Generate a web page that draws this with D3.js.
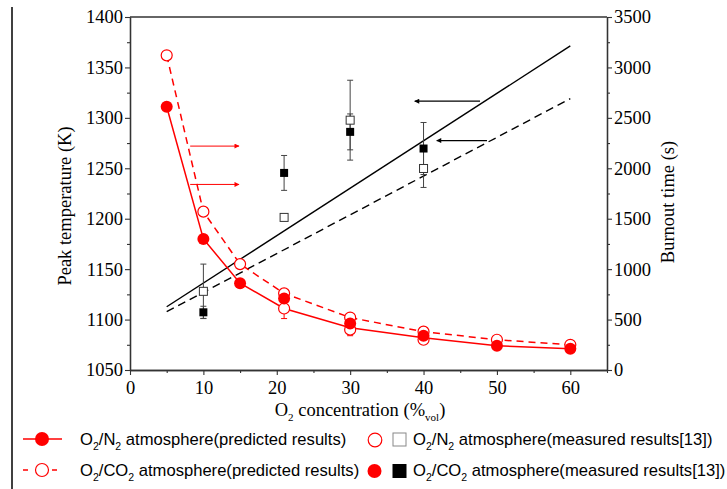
<!DOCTYPE html>
<html><head><meta charset="utf-8">
<script src="https://cdn.jsdelivr.net/npm/d3@7"></script>
<style>
body{margin:0;background:#fff;}
svg{display:block;}
.serif{font-family:"Liberation Serif","Times New Roman",Times,serif;}
.sans{font-family:"Liberation Sans",Arial,Helvetica,sans-serif;}
</style></head>
<body>
<svg id="chart" width="727" height="489"></svg>
<script>
// ---------------- data ----------------
const concPred = [5, 10, 15, 21, 30, 40, 50, 60];
const tempN2Pred = [1311, 1180, 1136, 1111, 1092, 1082, 1074, 1071];
const tempCO2Pred = [1362, 1207, 1155, 1126, 1102, 1088, 1080, 1075];
const n2PredMarkerConc = [5, 10, 15, 50, 60];

const concMeasTemp = [21, 30, 40];
const tempN2Meas = [1111, 1090, 1080];
const errTempN2Meas = [10, 6, 3];
const tempCO2Meas = [1121, 1096, 1084];

const concBurnLine = [5, 60];
const burnN2Pred = [627, 3213];
const burnCO2Pred = [578, 2691];

const concMeasBurn = [10, 21, 30, 40];
const burnN2Meas = [780, 1513, 2477, 1998];
const errBurnN2Meas = [270, 0, 396, 188];
const burnCO2Meas = [572, 1954, 2361, 2196];
const errBurnCO2Meas = [60, 173, 178, 258];

const xTicks = [0, 10, 20, 30, 40, 50, 60];
const yLeftTicks = [1050, 1100, 1150, 1200, 1250, 1300, 1350, 1400];
const yRightTicks = [0, 500, 1000, 1500, 2000, 2500, 3000, 3500];

// annotation arrows: [x1, x2, y] (data units)
const redArrows = [[8.2, 14.85, 1272], [8.2, 14.85, 1234]];
const blackArrows = [[47.7, 38.8, 2665], [48.65, 41.8, 2275]];

// ---------------- layout ----------------
const svg = d3.select("#chart");
const L = 130, R = 607, T = 17, B = 370;
const x = d3.scaleLinear().domain([0, 65]).range([L, R]);
const yL = d3.scaleLinear().domain([1050, 1400]).range([B, T]);
const yR = d3.scaleLinear().domain([0, 3500]).range([B, T]);
const RED = "#ff0000";
const AX = "#333";

// left border line
svg.append("line").attr("x1", 12).attr("x2", 12).attr("y1", 7).attr("y2", 489)
  .attr("stroke", "#000").attr("stroke-width", 1.5);

// defs for arrowheads
const defs = svg.append("defs");
function marker(id, color) {
  defs.append("marker").attr("id", id).attr("viewBox", "0 0 10 10")
    .attr("refX", 9).attr("refY", 5).attr("markerWidth", 7).attr("markerHeight", 5)
    .attr("markerUnits", "userSpaceOnUse").attr("orient", "auto")
    .append("path").attr("d", "M0,0L10,5L0,10Z").attr("fill", color);
}
marker("arrR", RED); marker("arrK", "#000");

// ---------------- axes ----------------
function styleAxis(g) {
  g.attr("font-family", null).attr("font-size", null);
  g.select(".domain").attr("stroke", AX).attr("stroke-width", 1.3);
  g.selectAll(".tick line").attr("stroke", AX).attr("stroke-width", 1.1);
  g.selectAll(".tick text").attr("fill", "#000").attr("class", "serif").style("font-size", "18.5px");
}
const minorX = d3.range(5, 66, 10);
const minorYL = yLeftTicks.slice(0, -1).map(v => v + 25);
const minorYR = yRightTicks.slice(0, -1).map(v => v + 250);

svg.append("g").attr("transform", `translate(0,${B})`)
  .call(d3.axisBottom(x).tickValues(minorX).tickSize(3).tickSizeOuter(0).tickFormat(""))
  .call(styleAxis);
svg.append("g").attr("transform", `translate(0,${B})`)
  .call(d3.axisBottom(x).tickValues(xTicks).tickSize(5).tickSizeOuter(0).tickPadding(6).tickFormat(d3.format("d")))
  .call(styleAxis);
svg.append("g").attr("transform", `translate(${L},0)`)
  .call(d3.axisLeft(yL).tickValues(minorYL).tickSize(3).tickSizeOuter(0).tickFormat(""))
  .call(styleAxis);
svg.append("g").attr("transform", `translate(${L},0)`)
  .call(d3.axisLeft(yL).tickValues(yLeftTicks).tickSize(5).tickSizeOuter(0).tickPadding(2).tickFormat(d3.format("d")))
  .call(styleAxis);
svg.append("g").attr("transform", `translate(${R},0)`)
  .call(d3.axisRight(yR).tickValues(minorYR).tickSize(3).tickSizeOuter(0).tickFormat(""))
  .call(styleAxis);
svg.append("g").attr("transform", `translate(${R},0)`)
  .call(d3.axisRight(yR).tickValues(yRightTicks).tickSize(5).tickSizeOuter(0).tickPadding(2).tickFormat(d3.format("d")))
  .call(styleAxis);
// top border
svg.append("line").attr("x1", L).attr("x2", R).attr("y1", T).attr("y2", T)
  .attr("stroke", AX).attr("stroke-width", 1.3);

// axis titles
const xt = svg.append("text").attr("class", "serif").attr("x", 360).attr("y", 416).attr("text-anchor", "middle")
  .style("font-size", "18.5px").attr("fill", "#000");
xt.append("tspan").text("O");
xt.append("tspan").style("font-size", "11px").attr("dy", 5).text("2");
xt.append("tspan").attr("dy", -5).text(" concentration (%");
xt.append("tspan").style("font-size", "11px").attr("dy", 5).text("vol");
xt.append("tspan").attr("dy", -5).text(")");

svg.append("text").attr("class", "serif").attr("transform", "translate(71,206) rotate(-90)").attr("text-anchor", "middle")
  .style("font-size", "18.5px").attr("fill", "#000").text("Peak temperature (K)");
svg.append("text").attr("class", "serif").attr("transform", "translate(674,202) rotate(-90)").attr("text-anchor", "middle")
  .style("font-size", "18.5px").attr("fill", "#000").text("Burnout time (s)");

// ---------------- lines ----------------
const lineT = d3.line().x(d => x(d[0])).y(d => yL(d[1]));
const lineB = d3.line().x(d => x(d[0])).y(d => yR(d[1]));

svg.append("path").attr("d", lineB(d3.zip(concBurnLine, burnN2Pred)))
  .attr("fill", "none").attr("stroke", "#000").attr("stroke-width", 1.4);
svg.append("path").attr("d", lineB(d3.zip(concBurnLine, burnCO2Pred)))
  .attr("fill", "none").attr("stroke", "#000").attr("stroke-width", 1.4).attr("stroke-dasharray", "8,5");
svg.append("path").attr("d", lineT(d3.zip(concPred, tempN2Pred)))
  .attr("fill", "none").attr("stroke", RED).attr("stroke-width", 1.5);
svg.append("path").attr("d", lineT(d3.zip(concPred, tempCO2Pred)))
  .attr("fill", "none").attr("stroke", RED).attr("stroke-width", 1.5).attr("stroke-dasharray", "7,5");

// ---------------- arrows ----------------
redArrows.forEach(a => {
  svg.append("line").attr("x1", x(a[0])).attr("x2", x(a[1])).attr("y1", yL(a[2])).attr("y2", yL(a[2]))
    .attr("stroke", RED).attr("stroke-width", 1).attr("marker-end", "url(#arrR)");
});
blackArrows.forEach(a => {
  svg.append("line").attr("x1", x(a[0])).attr("x2", x(a[1])).attr("y1", yR(a[2])).attr("y2", yR(a[2]))
    .attr("stroke", "#000").attr("stroke-width", 1.2).attr("marker-end", "url(#arrK)");
});

// ---------------- error bars ----------------
function errBars(xs, ys, es, scale, color) {
  xs.forEach((c, i) => {
    if (!es[i]) return;
    const cx = x(c), y1 = scale(ys[i] - es[i]), y2 = scale(ys[i] + es[i]);
    const g = svg.append("g").attr("stroke", color).attr("stroke-width", 1);
    g.append("line").attr("x1", cx).attr("x2", cx).attr("y1", y1).attr("y2", y2);
    g.append("line").attr("x1", cx - 3).attr("x2", cx + 3).attr("y1", y1).attr("y2", y1);
    g.append("line").attr("x1", cx - 3).attr("x2", cx + 3).attr("y1", y2).attr("y2", y2);
  });
}
errBars(concMeasBurn, burnN2Meas, errBurnN2Meas, yR, "#444");
errBars(concMeasBurn, burnCO2Meas, errBurnCO2Meas, yR, "#444");
errBars(concMeasTemp, tempN2Meas, errTempN2Meas, yL, RED);

// ---------------- markers ----------------
const rC = 5.5;
svg.append("g").selectAll("circle").data(d3.zip(concPred, tempCO2Pred)).join("circle")
  .attr("cx", d => x(d[0])).attr("cy", d => yL(d[1])).attr("r", rC)
  .attr("fill", "#fff").attr("stroke", RED).attr("stroke-width", 1.2);
svg.append("g").selectAll("circle").data(d3.zip(concMeasTemp, tempN2Meas)).join("circle")
  .attr("cx", d => x(d[0])).attr("cy", d => yL(d[1])).attr("r", rC)
  .attr("fill", "#fff").attr("stroke", RED).attr("stroke-width", 1.2);
const n2PredMap = new Map(d3.zip(concPred, tempN2Pred));
svg.append("g").selectAll("circle").data(n2PredMarkerConc).join("circle")
  .attr("cx", d => x(d)).attr("cy", d => yL(n2PredMap.get(d))).attr("r", rC + 0.5)
  .attr("fill", RED);
svg.append("g").selectAll("circle").data(d3.zip(concMeasTemp, tempCO2Meas)).join("circle")
  .attr("cx", d => x(d[0])).attr("cy", d => yL(d[1])).attr("r", rC + 0.5)
  .attr("fill", RED);
const sq = 8;
svg.append("g").selectAll("rect").data(d3.zip(concMeasBurn, burnN2Meas)).join("rect")
  .attr("x", d => x(d[0]) - sq / 2).attr("y", d => yR(d[1]) - sq / 2).attr("width", sq).attr("height", sq)
  .attr("fill", "#fff").attr("stroke", "#333").attr("stroke-width", 1);
svg.append("g").selectAll("rect").data(d3.zip(concMeasBurn, burnCO2Meas)).join("rect")
  .attr("x", d => x(d[0]) - sq / 2).attr("y", d => yR(d[1]) - sq / 2).attr("width", sq).attr("height", sq)
  .attr("fill", "#000");

// ---------------- legend ----------------
function legText(xp, yp, parts) {
  const t = svg.append("text").attr("class", "sans").attr("x", xp).attr("y", yp)
    .style("font-size", "16.6px").attr("fill", "#000");
  let sub = false;
  parts.forEach(p => {
    const isSub = p.startsWith("_");
    const s = t.append("tspan").text(isSub ? p.slice(1) : p);
    if (isSub) { s.style("font-size", "10.5px").attr("dy", sub ? 0 : 5); sub = true; }
    else { if (sub) s.attr("dy", -5); sub = false; }
  });
}
const ly1 = 439, ly2 = 470;
svg.append("line").attr("x1", 23).attr("x2", 62).attr("y1", ly1).attr("y2", ly1).attr("stroke", RED).attr("stroke-width", 1.5);
svg.append("circle").attr("cx", 42).attr("cy", ly1).attr("r", 7).attr("fill", RED);
legText(80, 445, ["O", "_2", "/N", "_2", " atmosphere(predicted results)"]);

svg.append("line").attr("x1", 23).attr("x2", 62).attr("y1", ly2).attr("y2", ly2).attr("stroke", RED).attr("stroke-width", 1.5).attr("stroke-dasharray", "5,9.5");
svg.append("circle").attr("cx", 42).attr("cy", ly2).attr("r", 6.5).attr("fill", "#fff").attr("stroke", RED).attr("stroke-width", 1.2);
legText(80, 476, ["O", "_2", "/CO", "_2", " atmosphere(predicted results)"]);

svg.append("circle").attr("cx", 375).attr("cy", ly1 + 1).attr("r", 6.8).attr("fill", "#fff").attr("stroke", RED).attr("stroke-width", 1.2);
svg.append("rect").attr("x", 393).attr("y", ly1 - 6).attr("width", 13).attr("height", 13).attr("fill", "#fff").attr("stroke", "#888").attr("stroke-width", 1);
legText(413, 445, ["O", "_2", "/N", "_2", " atmosphere(measured results[13])"]);

svg.append("circle").attr("cx", 374.5).attr("cy", ly2 + 1).attr("r", 7).attr("fill", RED);
svg.append("rect").attr("x", 392.5).attr("y", ly2 - 6).attr("width", 14).attr("height", 14).attr("fill", "#000");
legText(413, 476, ["O", "_2", "/CO", "_2", " atmosphere(measured results[13])"]);
</script>
</body></html>
